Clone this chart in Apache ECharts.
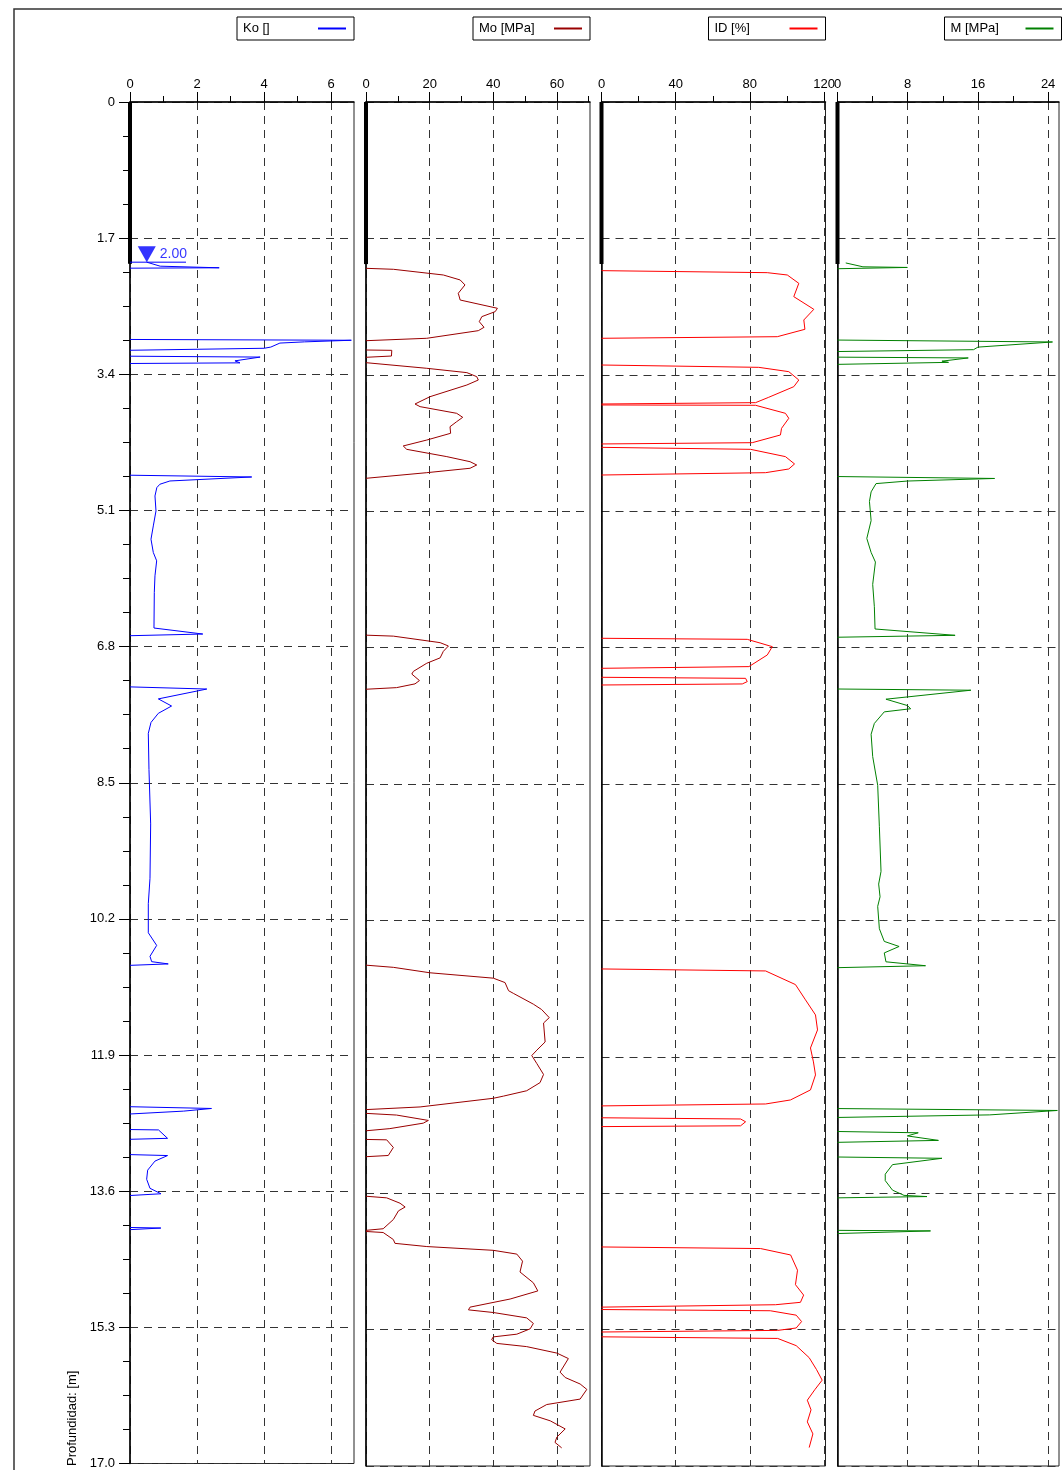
<!DOCTYPE html>
<html>
<head>
<meta charset="utf-8">
<script src="https://cdn.jsdelivr.net/npm/echarts@6/dist/echarts.min.js"></script>
<style>
  html, body { margin: 0; padding: 0; background: #fff; }
  #chart { width: 1062px; height: 1470px; }
</style>
</head>
<body>
<div id="chart"></div>
<script>
// ---- Depth axis (m) ----
const depthTickLabels = ['0', '1.7', '3.4', '5.1', '6.8', '8.5', '10.2', '11.9', '13.6', '15.3', '17.0'];
const depthMax = 17.0;
const depthStep = 1.7;

// Groundwater level and the pre-bored zone shown as a thick bar at zero
const waterDepth = 2.00;
const waterMarkKo = 0.5;
const waterLineKo = [0, 1.67];
const preboreDepth = 2.02;

// ---- Measured profiles: each segment is a list of [value, depth] ----
const koSegments = [
  [[0.5, 2.0], [0.9, 2.05], [2.66, 2.07], [0, 2.075]],
  [[0, 2.965], [6.6, 2.975], [5.2, 2.995], [4.47, 3.01], [4.2, 3.06], [4.0, 3.075], [0, 3.10]],
  [[0, 3.174], [3.88, 3.185], [3.13, 3.232], [3.28, 3.257], [0, 3.265]],
  [[0, 4.66], [3.63, 4.682], [1.19, 4.732], [0.89, 4.773], [0.8, 4.815], [0.745, 4.919], [0.775, 5.106],
   [0.695, 5.293], [0.626, 5.459], [0.695, 5.625], [0.795, 5.729], [0.745, 5.916], [0.725, 6.123],
   [0.715, 6.568], [2.17, 6.643], [0, 6.664]],
  [[0, 7.303], [2.29, 7.33], [0.845, 7.453], [1.24, 7.542], [0.845, 7.633], [0.626, 7.747], [0.546, 7.883],
   [0.566, 8.335], [0.616, 9.014], [0.596, 9.693], [0.546, 10.01], [0.546, 10.373], [0.795, 10.531],
   [0.596, 10.667], [0.646, 10.734], [1.14, 10.762], [0, 10.78]],
  [[0, 12.545], [2.43, 12.567], [1.6, 12.6], [0, 12.636]],
  [[0, 12.83], [0.85, 12.835], [1.12, 12.94], [0, 12.952]],
  [[0, 13.143], [1.12, 13.155], [0.745, 13.224], [0.527, 13.337], [0.497, 13.451], [0.596, 13.564],
   [0.924, 13.632], [0, 13.654]],
  [[0, 14.053], [0.92, 14.06], [0, 14.08]]
];

const moSegments = [
  [[0, 2.073], [8.6, 2.085], [24.3, 2.156], [29.6, 2.218], [31.1, 2.28], [29.0, 2.384], [29.6, 2.468],
   [41.3, 2.571], [40.6, 2.613], [36.4, 2.675], [35.6, 2.738], [37.1, 2.808], [35.3, 2.85], [19.1, 2.945], [0, 2.975]],
  [[0, 3.091], [8.1, 3.095], [8.0, 3.166], [0, 3.182]],
  [[0, 3.249], [19.1, 3.319], [31.7, 3.373], [34.8, 3.423], [35.3, 3.465], [31.7, 3.527], [20.1, 3.673],
   [15.4, 3.764], [17.0, 3.797], [28.5, 3.88], [30.4, 3.93], [28.5, 3.984], [26.4, 4.047], [26.6, 4.129],
   [19.1, 4.213], [11.7, 4.287], [12.8, 4.329], [25.4, 4.42], [32.7, 4.483], [34.8, 4.524], [32.7, 4.565],
   [19.1, 4.62], [0, 4.69]],
  [[0, 6.645], [8.6, 6.657], [23.3, 6.738], [25.9, 6.78], [24.3, 6.847], [23.3, 6.928], [19.1, 6.995],
   [14.9, 7.096], [14.4, 7.13], [16.8, 7.211], [15.4, 7.252], [9.6, 7.299], [0, 7.319]],
  [[0, 10.758], [8.6, 10.785], [20.1, 10.853], [40.0, 10.92], [43.7, 10.975], [44.8, 11.076], [46.3, 11.109],
   [52.6, 11.244], [55.2, 11.311], [57.6, 11.412], [55.8, 11.479], [56.3, 11.715], [53.7, 11.817],
   [52.1, 11.884], [53.7, 11.985], [55.8, 12.12], [54.7, 12.222], [50.5, 12.323], [43.2, 12.39],
   [40.0, 12.417], [17.0, 12.525], [0, 12.558]],
  [[0, 12.605], [9.6, 12.626], [19.6, 12.693], [18.0, 12.727], [7.5, 12.795], [0, 12.822]],
  [[0, 12.93], [6.5, 12.935], [8.6, 13.03], [7.0, 13.13], [0, 13.145]],
  [[0, 13.638], [6.5, 13.658], [10.7, 13.725], [12.3, 13.772], [10.2, 13.82], [8.6, 13.928], [5.4, 14.043], [0, 14.063]],
  [[0, 14.077], [5.4, 14.09], [8.6, 14.178], [9.1, 14.225], [19.1, 14.265], [40.0, 14.312], [47.4, 14.359],
   [49.2, 14.447], [48.4, 14.582], [52.6, 14.717], [54.0, 14.818], [45.3, 14.919], [32.7, 15.02],
   [32.2, 15.054], [40.0, 15.087], [50.5, 15.154], [52.6, 15.223], [51.6, 15.29], [47.4, 15.357],
   [40.0, 15.391], [39.5, 15.425], [41.1, 15.472], [50.5, 15.512], [60.0, 15.593], [63.6, 15.661],
   [61.0, 15.83], [62.6, 15.897], [67.3, 15.978], [69.4, 16.045], [67.3, 16.166], [56.8, 16.234],
   [53.1, 16.315], [52.6, 16.369], [57.9, 16.437], [62.6, 16.538], [60.0, 16.639], [59.4, 16.706], [61.5, 16.774]]
];

const idSegments = [
  [[0, 2.102], [89.4, 2.127], [100.2, 2.156], [106.4, 2.26], [103.7, 2.426], [114.5, 2.584], [109.1, 2.717],
   [109.7, 2.833], [94.8, 2.925], [0, 2.945]],
  [[0, 3.278], [84.8, 3.307], [101, 3.361], [106.4, 3.465], [103.7, 3.548], [90.2, 3.68], [83.1, 3.747], [0, 3.764]],
  [[0, 3.776], [83.1, 3.78], [99.2, 3.88], [101, 3.942], [97.1, 4.067], [96.5, 4.15], [81.3, 4.246], [0, 4.262]],
  [[0, 4.304], [80.4, 4.329], [99.2, 4.42], [104.1, 4.511], [101, 4.574], [88.5, 4.62], [0, 4.649]],
  [[0, 6.684], [78.6, 6.697], [92.1, 6.788], [89.4, 6.892], [79.5, 7.037], [0, 7.058]],
  [[0, 7.17], [77.7, 7.183], [78.6, 7.224], [75.9, 7.253], [0, 7.266]],
  [[0, 10.805], [88.5, 10.83], [104.6, 11.0], [110, 11.19], [115.4, 11.378], [116.5, 11.565], [112.7, 11.79],
   [114.3, 11.964], [115.4, 12.126], [112.7, 12.313], [101.9, 12.438], [88.5, 12.488], [0, 12.512]],
  [[0, 12.66], [75, 12.675], [77.7, 12.71], [75, 12.76], [0, 12.77]],
  [[0, 14.27], [85.8, 14.29], [102, 14.37], [105.7, 14.56], [104.6, 14.74], [109, 14.87], [107.3, 14.96],
   [93.9, 14.99], [0, 15.02]],
  [[0, 15.05], [91, 15.065], [105, 15.12], [107.9, 15.2], [105, 15.28], [95, 15.31], [0, 15.33]],
  [[0, 15.39], [95, 15.41], [105, 15.5], [112, 15.65], [116, 15.8], [119, 15.93], [115, 16.05], [111, 16.18],
   [113, 16.3], [111, 16.45], [114, 16.6], [112, 16.77]]
];

const mSegments = [
  [[0.94, 2.006], [2.9, 2.054], [7.96, 2.062], [0, 2.078]],
  [[0, 2.967], [24.5, 2.991], [16.0, 3.055], [15.5, 3.087], [0, 3.11]],
  [[0, 3.18], [14.9, 3.19], [11.9, 3.23], [12.65, 3.245], [0, 3.27]],
  [[0, 4.668], [17.9, 4.692], [7.96, 4.724], [4.39, 4.756], [3.83, 4.859], [3.64, 4.979], [3.83, 5.217],
   [3.34, 5.44], [3.83, 5.614], [4.32, 5.734], [4.01, 6.012], [4.2, 6.29], [4.28, 6.568], [13.4, 6.647], [0, 6.671]],
  [[0, 7.316], [15.2, 7.331], [5.52, 7.443], [7.96, 7.522], [8.34, 7.562], [5.33, 7.601], [4.2, 7.745],
   [3.83, 7.88], [4.01, 8.158], [4.58, 8.516], [4.77, 9.032], [4.96, 9.589], [4.69, 9.747], [4.85, 9.906],
   [4.58, 10.025], [4.77, 10.304], [5.33, 10.462], [7.02, 10.525], [5.33, 10.605], [5.52, 10.716],
   [10.03, 10.765], [0, 10.789]],
  [[0, 12.545], [25.05, 12.569], [17.35, 12.624], [0, 12.656]],
  [[0, 12.831], [9.2, 12.847], [7.96, 12.886], [11.5, 12.942], [0, 12.966]],
  [[0, 13.149], [11.9, 13.165], [6.27, 13.244], [5.44, 13.363], [5.44, 13.443], [6.27, 13.562],
   [7.58, 13.627], [10.2, 13.642], [0, 13.658]],
  [[0, 14.063], [10.6, 14.07], [0, 14.103]]
];

// ---- Track layout ----
const FONT = '"Liberation Sans", Arial, Helvetica, sans-serif';
const TRACK_TOP = 102;
const TRACK_HEIGHT = 1364;
const TRACK_WIDTH = 224;

const tracks = [
  { name: 'Ko []',     segments: koSegments, color: '#0000ff', max: 6.68,  interval: 2,  left: 130 },
  { name: 'Mo [MPa]',  segments: moSegments, color: '#990000', max: 70.4,  interval: 20, left: 366 },
  { name: 'ID [%]',    segments: idSegments, color: '#ff0000', max: 120.8, interval: 40, left: 601.5 },
  { name: 'M [MPa]',   segments: mSegments,  color: '#008000', max: 25.24, interval: 8,  left: 837.5 }
];

// join segments with gaps so each track is one broken line
function joinSegments(segs) {
  const out = [];
  segs.forEach((s, i) => {
    if (i > 0) out.push(['-', '-']);
    s.forEach(p => out.push(p));
  });
  return out;
}

function majorValues(max, step) {
  const v = [];
  for (let x = 0; x <= max + 1e-9; x += step) v.push(Math.round(x * 1000) / 1000);
  return v;
}

const grid = [], xAxis = [], yAxis = [], series = [], legend = [];

tracks.forEach((t, i) => {
  grid.push({
    left: t.left, top: TRACK_TOP, width: TRACK_WIDTH, height: TRACK_HEIGHT,
    show: true, borderColor: '#222', borderWidth: 1, backgroundColor: 'transparent'
  });

  xAxis.push({
    gridIndex: i, type: 'value', position: 'top',
    min: 0, max: t.max, interval: t.interval,
    axisLine: { show: true, onZero: false, lineStyle: { color: '#000', width: 1.5 } },
    axisTick: { show: true, length: 10, lineStyle: { color: '#000', width: 1 }, customValues: majorValues(t.max, t.interval) },
    minorTick: { show: true, splitNumber: 2, length: 6, lineStyle: { color: '#000', width: 1 } },
    axisLabel: {
      show: true, margin: 11, fontSize: 13, color: '#000', fontFamily: FONT,
      formatter: v => (Math.abs(v / t.interval - Math.round(v / t.interval)) < 1e-6 ? String(v) : '')
    },
    splitLine: { show: true, lineStyle: { color: '#333', width: 1, type: [8, 6] } },
    minorSplitLine: { show: false }
  });

  const isDepthAxis = i === 0;
  yAxis.push({
    gridIndex: i, type: 'value', inverse: true,
    min: 0, max: depthMax, interval: depthStep,
    axisLine: { show: true, onZero: false, lineStyle: { color: '#000', width: 1.5 } },
    axisTick: { show: isDepthAxis, length: 11, lineStyle: { color: '#000' } },
    minorTick: { show: isDepthAxis, splitNumber: 4, length: 7, lineStyle: { color: '#000' } },
    axisLabel: {
      show: isDepthAxis, margin: 15, fontSize: 13, color: '#000', fontFamily: FONT,
      formatter: v => depthTickLabels[Math.round(v / depthStep)] || ''
    },
    splitLine: { show: true, lineStyle: { color: '#333', width: 1, type: [8, 6] } }
  });

  series.push({
    name: t.name, type: 'line', xAxisIndex: i, yAxisIndex: i,
    data: joinSegments(t.segments),
    symbol: 'none', connectNulls: false, silent: true,
    lineStyle: { color: t.color, width: 1 },
    itemStyle: { color: t.color },
    z: 3
  });

  // pre-bored zone marked as a thick bar along the zero line
  series.push({
    type: 'line', xAxisIndex: i, yAxisIndex: i,
    data: [[0, 0], [0, preboreDepth]],
    symbol: 'none', silent: true, clip: false,
    lineStyle: { color: '#000', width: 4 },
    z: 4
  });

  legend.push({
    show: true, data: [t.name], selectedMode: false,
    left: t.left + TRACK_WIDTH - 117, top: 17,
    orient: 'horizontal', align: 'right',
    icon: 'rect', itemWidth: 28, itemHeight: 2,
    borderColor: '#000', borderWidth: 1, borderRadius: 0,
    padding: [5, 8, 5, 6],
    formatter: n => '{t|' + n + '}',
    textStyle: {
      fontSize: 13, color: '#000', fontFamily: FONT,
      rich: { t: { width: 70, height: 14, align: 'left', fontSize: 13, fontFamily: FONT, color: '#000' } }
    }
  });
});

// groundwater level: underline and downward triangle with its depth
series.push({
  type: 'line', xAxisIndex: 0, yAxisIndex: 0,
  data: [[waterLineKo[0], waterDepth], [waterLineKo[1], waterDepth]],
  symbol: 'none', silent: true,
  lineStyle: { color: '#0000ff', width: 1 }, z: 5
});
series.push({
  type: 'scatter', xAxisIndex: 0, yAxisIndex: 0,
  data: [[waterMarkKo, waterDepth]],
  symbol: 'triangle', symbolRotate: 180, symbolSize: [18, 16], symbolOffset: [0, '-50%'],
  itemStyle: { color: '#0000ff' }, silent: true, z: 6,
  label: {
    show: true, position: 'right', distance: 4,
    formatter: () => waterDepth.toFixed(2),
    color: '#0000ff', fontSize: 14, fontFamily: FONT
  }
});

const chart = echarts.init(document.getElementById('chart'), null, { renderer: 'canvas' });
chart.setOption({
  animation: false,
  backgroundColor: '#fff',
  grid, xAxis, yAxis, series, legend,
  graphic: [
    {
      type: 'rect', silent: true, z: -10,
      shape: { x: 14, y: 9, width: 1200, height: 1600 },
      style: { fill: 'none', stroke: '#333', lineWidth: 1.5 }
    },
    {
      type: 'text', silent: true, x: 66, y: 1466, rotation: Math.PI / 2,
      style: { text: 'Profundidad: [m]', fontSize: 13, fill: '#000', fontFamily: FONT, textAlign: 'left', textVerticalAlign: 'top' }
    }
  ]
});
</script>
</body>
</html>
